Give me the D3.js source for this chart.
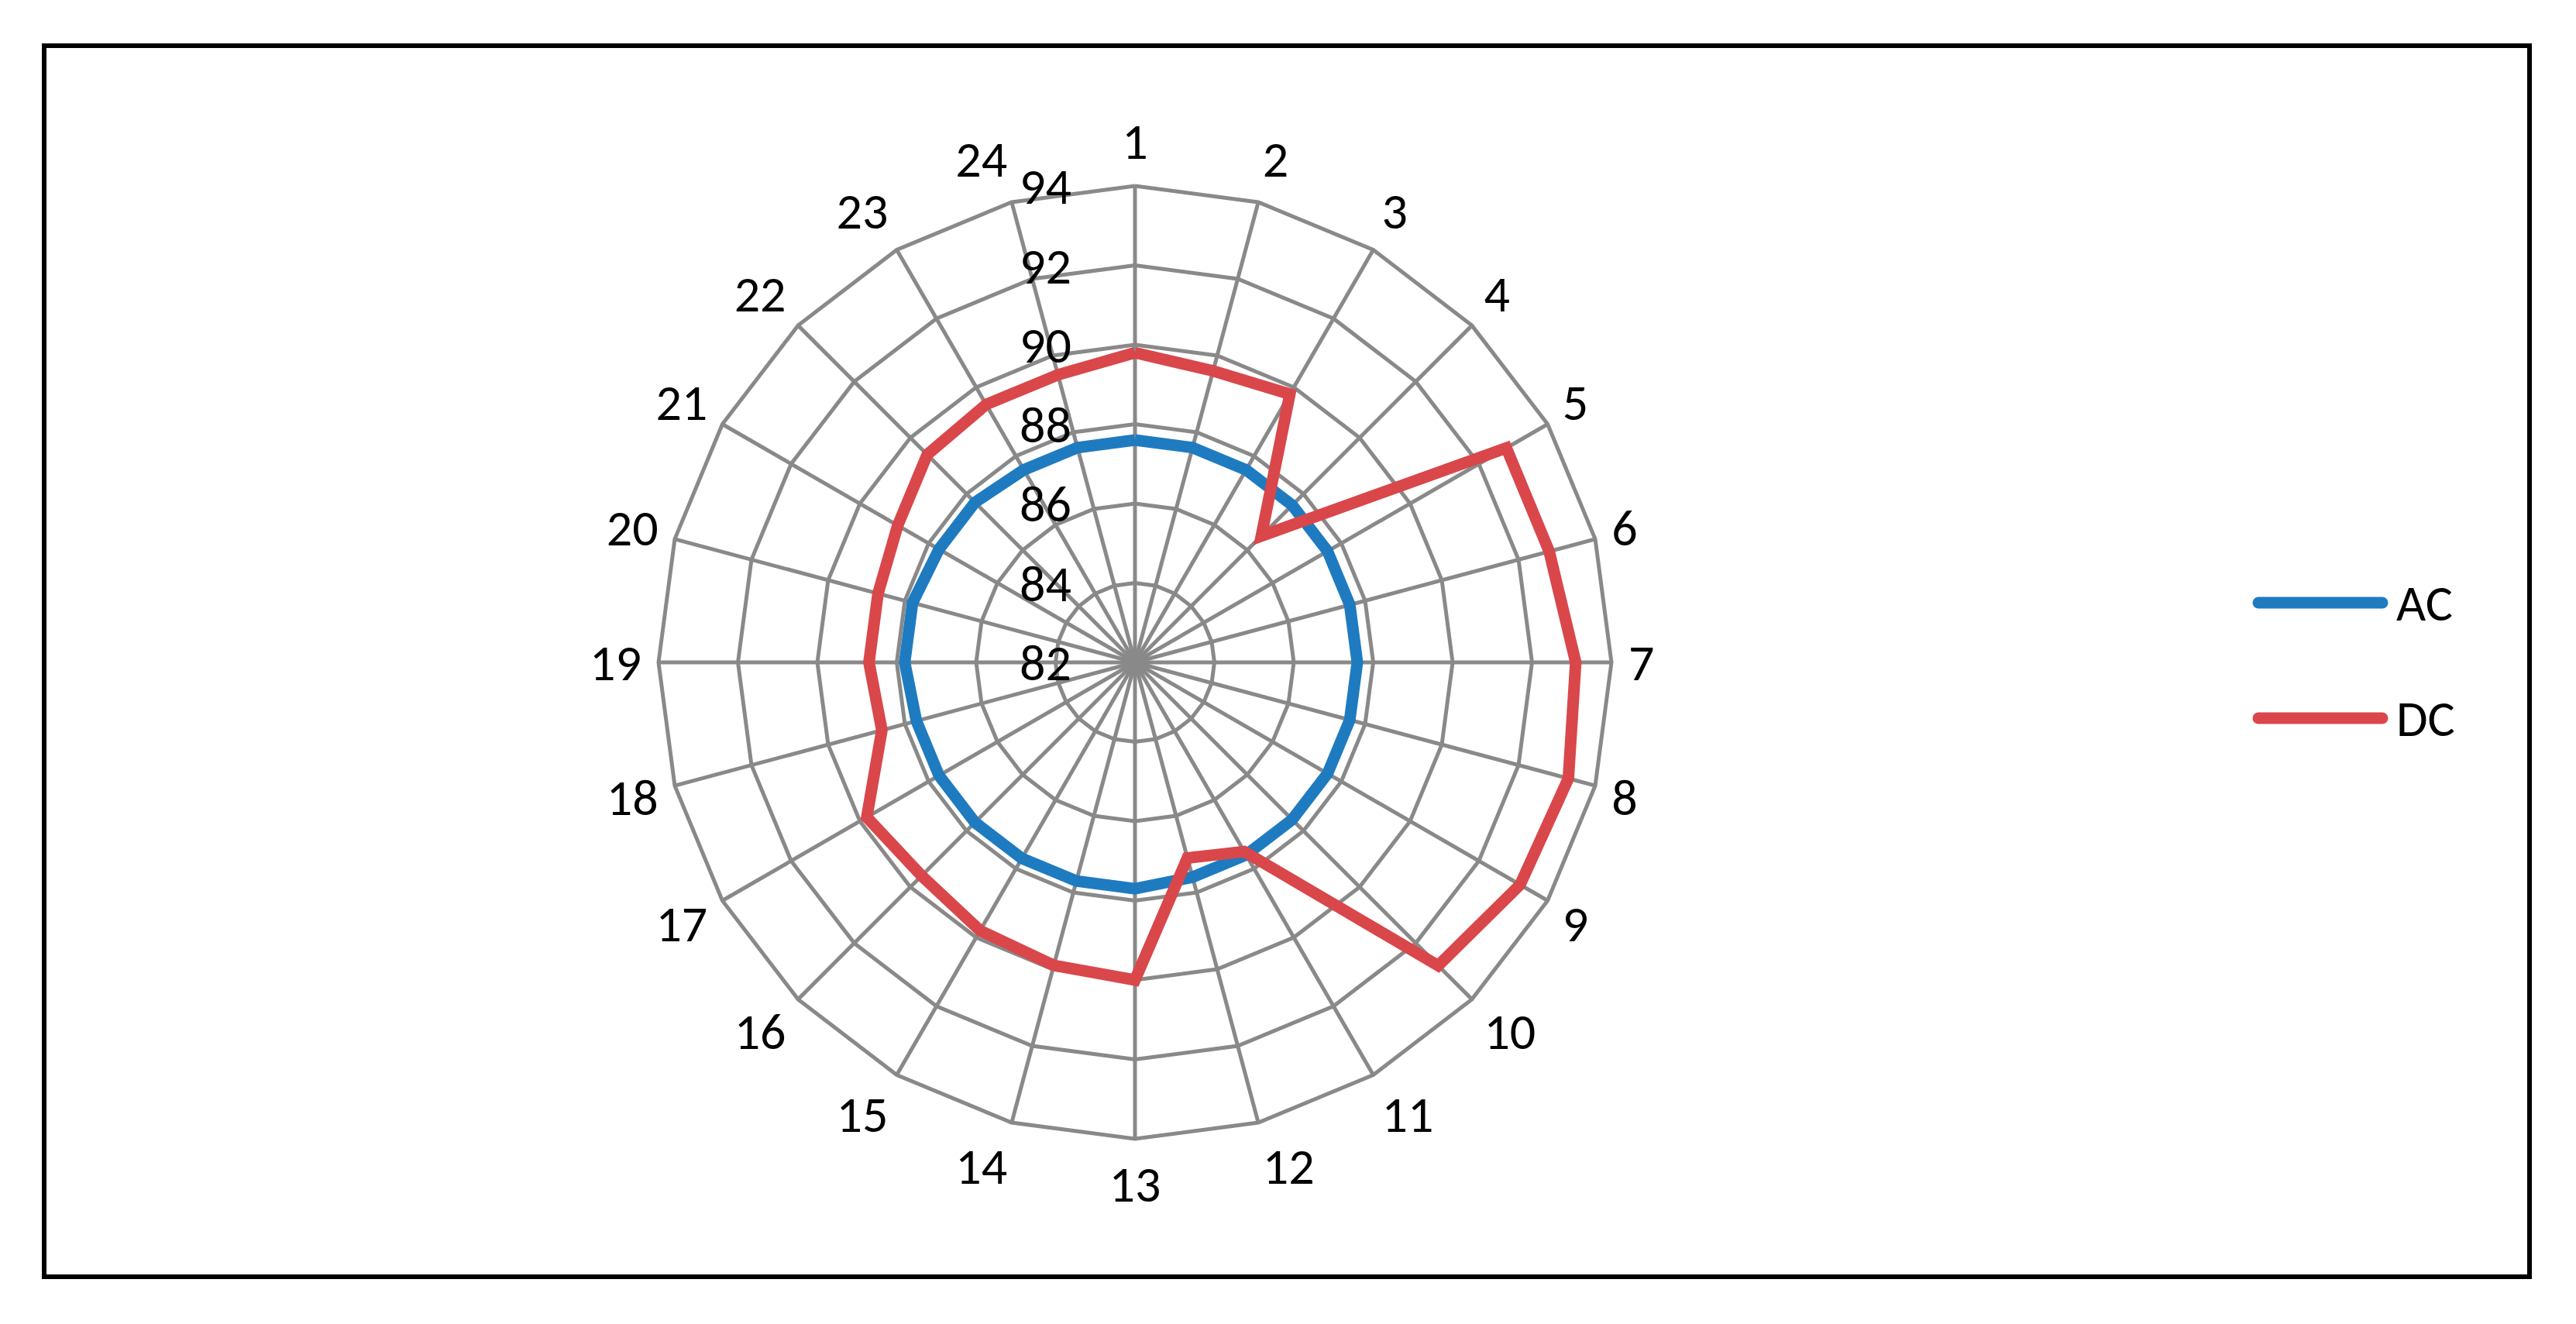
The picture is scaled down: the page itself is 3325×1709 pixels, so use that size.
<!DOCTYPE html>
<html><head><meta charset="utf-8">
<script src="https://cdn.jsdelivr.net/npm/d3@7"></script>
<style>body{margin:0;background:#fff}text{font-family:Calibri,Carlito,"Open Sans",sans-serif}</style>
</head><body><svg id="c" width="3325" height="1709"></svg>
<script>
const categories = d3.range(1,25).map(String);
const ticks = [82,84,86,88,90,92,94];
const seriesNames = ["AC","DC"];
const acValues = [87.6,87.6,87.6,87.6,87.6,87.6,87.6,87.6,87.6,87.6,87.6,87.6,87.7,87.7,87.7,87.7,87.7,87.7,87.8,87.8,87.7,87.7,87.6,87.6];
const dcValues = [89.8,89.6,89.8,86.5,92.8,92.8,93.1,93.3,93.2,92.8,87.5,87.1,90.0,89.9,89.8,89.6,89.8,88.6,88.7,88.7,88.9,89.4,89.5,89.5];
const colors = ["#1f7bc0","#d9474a"];

const svg = d3.select("#c");
svg.append("rect").attr("x",57).attr("y",59).attr("width",3208).attr("height",1589)
  .attr("fill","none").attr("stroke","#000").attr("stroke-width",6);
const cx=1465, cy=855, R=615;
const r = d3.scaleLinear().domain([82,94]).range([0,R]);
const ang = d3.scaleLinear().domain([0,categories.length]).range([0,2*Math.PI]);
const pt=(i,v)=>[cx+r(v)*Math.sin(ang(i)), cy-r(v)*Math.cos(ang(i))];
const g=svg.append("g");
ticks.slice(1).forEach(t=>{
  g.append("path").attr("d",d3.line()(categories.map((c,i)=>pt(i,t)).concat([pt(0,t)])))
   .attr("fill","none").attr("stroke","#898989").attr("stroke-width",5);
});
categories.forEach((c,i)=>{
  g.append("line").attr("x1",cx).attr("y1",cy).attr("x2",pt(i,94)[0]).attr("y2",pt(i,94)[1])
   .attr("stroke","#898989").attr("stroke-width",5);
  const a=ang(i), s=Math.sin(a), co=Math.cos(a), lr=R+22;
  const x=cx+lr*s, y=cy-lr*co;
  g.append("text").attr("x",x).attr("y",y - co*36).attr("dy","0.35em")
   .attr("text-anchor", s>0.2?"start":(s<-0.2?"end":"middle")).attr("font-size",66).text(c);
});
ticks.forEach(t=>{
  g.append("text").attr("x",cx-82).attr("y",cy-r(t)).attr("dy","0.35em")
   .attr("text-anchor","end").attr("font-size",66).text(t);
});
[acValues,dcValues].forEach((vals,k)=>{
  g.append("path").attr("d",d3.line()(vals.map((v,i)=>pt(i,v)).concat([pt(0,vals[0])])))
   .attr("fill","none").attr("stroke",colors[k]).attr("stroke-width",15).attr("stroke-linejoin","miter");
});
seriesNames.forEach((n,k)=>{
  const y=778+k*149;
  svg.append("line").attr("x1",2915).attr("x2",3075).attr("y1",y).attr("y2",y)
   .attr("stroke",colors[k]).attr("stroke-width",15).attr("stroke-linecap","round");
  svg.append("text").attr("x",3093).attr("y",y).attr("dy","0.35em").attr("font-size",66).text(n);
});
</script></body></html>
